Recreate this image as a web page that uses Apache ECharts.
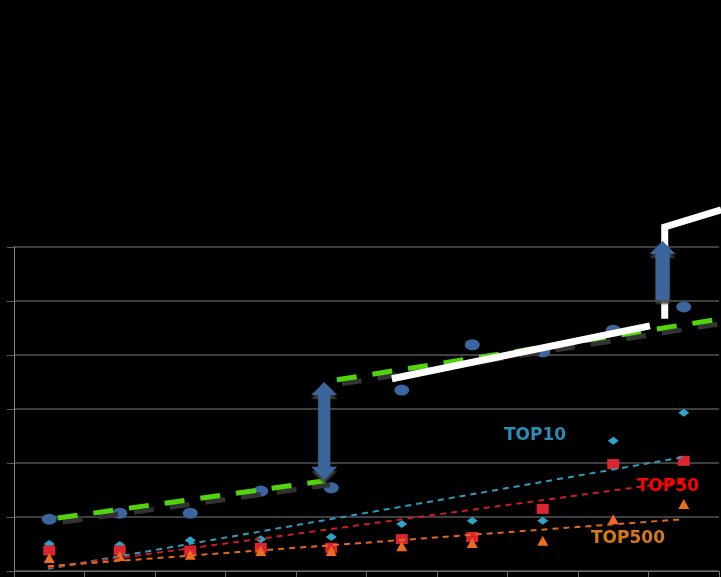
<!DOCTYPE html>
<html>
<head>
<meta charset="utf-8">
<script src="https://cdn.jsdelivr.net/npm/echarts@6/dist/echarts.min.js"></script>
<style>
html,body{margin:0;padding:0;background:#000;}
#chart{width:721px;height:577px;}
</style>
</head>
<body>
<div id="chart"></div>
<script>
// ---- data ----
const categories = ['1','2','3','4','5','6','7','8','9','10'];
const allValues   = [0.96,1.07,1.07,1.48,1.54,3.35,4.19,4.06,4.46,4.89];
const top10Values = [0.50,0.48,0.57,0.59,0.63,0.87,0.93,0.93,2.41,2.93];
const top50Values = [0.38,0.38,0.38,0.43,0.43,0.59,0.63,1.15,1.98,2.04];
const top500Values= [0.24,0.28,0.30,0.37,0.37,0.46,0.52,0.56,0.96,1.24];
const top10Trend  = [[0.48,0.04],[9.5,2.11]];
const top50Trend  = [[0.48,0.06],[9.5,1.67]];
const top500Trend = [[0.48,0.09],[9.5,0.96]];
const greenLow    = [[0.62,0.98],[4.41,1.67]];
const greenHigh   = [[4.58,3.54],[10.03,4.67]];
const whiteA      = [[5.36,3.56],[9.02,4.54]];
const whiteB      = [[9.23,4.67],[9.23,6.37],[10.03,6.69]];
const arrows      = [[4.40,1.69,3.50,1],[9.20,5.02,6.11,0]]; // x, from, to, double?
const labelTexts  = ['TOP10','TOP50','TOP500'];

const chart = echarts.init(document.getElementById('chart'));

function dashedLine(data, color, width, dash, extra) {
  return Object.assign({
    type:'line', xAxisIndex:1, yAxisIndex:0, data:data, showSymbol:false, symbol:'none',
    clip:false, silent:true, animation:false,
    lineStyle:{color:color, width:width, type:dash}
  }, extra||{});
}
const greenStyle = {color:'#52d40c', width:5, type:[20,16], cap:'butt', shadowColor:'#333', shadowOffsetX:5, shadowOffsetY:4, shadowBlur:0};

const option = {
  backgroundColor:'#000',
  animation:false,
  grid:{left:14, right:2, top:247, bottom:6},
  xAxis:[
    {type:'category', data:categories, boundaryGap:true,
     axisLine:{show:true, lineStyle:{color:'#6e6e6e', width:1}},
     axisTick:{show:true, length:6, lineStyle:{color:'#6e6e6e'}},
     axisLabel:{show:false}, splitLine:{show:false}},
    {type:'value', min:0, max:10, show:false}
  ],
  yAxis:[
    {type:'value', min:0, max:6, interval:1,
     axisLine:{show:true, lineStyle:{color:'#858585', width:1}},
     axisTick:{show:true, length:7, lineStyle:{color:'#5a5a5a'}},
     axisLabel:{show:false},
     splitLine:{show:true, lineStyle:{color:'#555', width:1.5}}}
  ],
  series:[
    {type:'scatter', data:allValues, symbol:'circle', symbolSize:[15,11],
     itemStyle:{color:'#3c66a0', opacity:1}, z:2},
    {type:'scatter', data:top10Values, symbol:'diamond', symbolSize:[11,8],
     itemStyle:{color:'#2fa3c6', opacity:1}, z:2},
    {type:'scatter', data:top50Values, symbol:'rect', symbolSize:[12,10],
     itemStyle:{color:'#dc2530', opacity:1}, z:2},
    {type:'scatter', data:top500Values, symbol:'triangle', symbolSize:[11,10],
     itemStyle:{color:'#ee6c1c', opacity:1}, z:2},
    dashedLine(top10Trend, '#2a9cc0', 2, [6,5], {z:3}),
    dashedLine(top50Trend, '#cc1c22', 2, [6,5], {z:3}),
    dashedLine(top500Trend, '#e2681a', 2, [6,5], {z:3}),
    dashedLine(greenLow, '#52d40c', 5, [20,16], {z:4, lineStyle:greenStyle}),
    dashedLine(greenHigh, '#52d40c', 5, [20,16], {z:4, lineStyle:greenStyle}),
    dashedLine(whiteA, '#ffffff', 7, 'solid', {z:5}),
    dashedLine(whiteB, '#ffffff', 7, 'solid', {z:5, lineStyle:{color:'#fff', width:7, type:'solid', join:'miter'}}),
    {type:'custom', xAxisIndex:1, yAxisIndex:0, data:arrows, z:6, silent:true,
     renderItem:function(params, api){
       const b = api.coord([api.value(0), api.value(1)]);
       const t = api.coord([api.value(0), api.value(2)]);
       const c = t[0], ty = t[1], by = b[1];
       const dbl = api.value(3) === 1;
       const hw = 13, hl = 13, sw = dbl ? 6 : 7;
       let pts;
       if (dbl) {
         pts = [[c,ty],[c+hw,ty+hl],[c+sw,ty+hl],[c+sw,by-hl],[c+hw,by-hl],[c,by],[c-hw,by-hl],[c-sw,by-hl],[c-sw,ty+hl],[c-hw,ty+hl]];
       } else {
         pts = [[c,ty],[c+hw,ty+hl],[c+sw,ty+hl],[c+sw,by],[c-sw,by],[c-sw,ty+hl],[c-hw,ty+hl]];
       }
       return {type:'polygon', shape:{points:pts},
               style:{fill:'#3c659c', shadowColor:'rgba(70,70,70,0.9)', shadowOffsetY:4, shadowBlur:2}};
     }}
  ],
  graphic:[
    {type:'text', left:504, top:427, z:10, style:{text:labelTexts[0], fill:'#2a8db3', font:'bold 17px "DejaVu Sans"'}},
    {type:'text', left:637, top:478, z:10, style:{text:labelTexts[1], fill:'#ff0000', font:'bold 17px "DejaVu Sans"'}},
    {type:'text', left:591, top:530, z:10, style:{text:labelTexts[2], fill:'#d47a10', font:'bold 17px "DejaVu Sans"'}}
  ]
};
chart.setOption(option);
</script>
</body>
</html>
